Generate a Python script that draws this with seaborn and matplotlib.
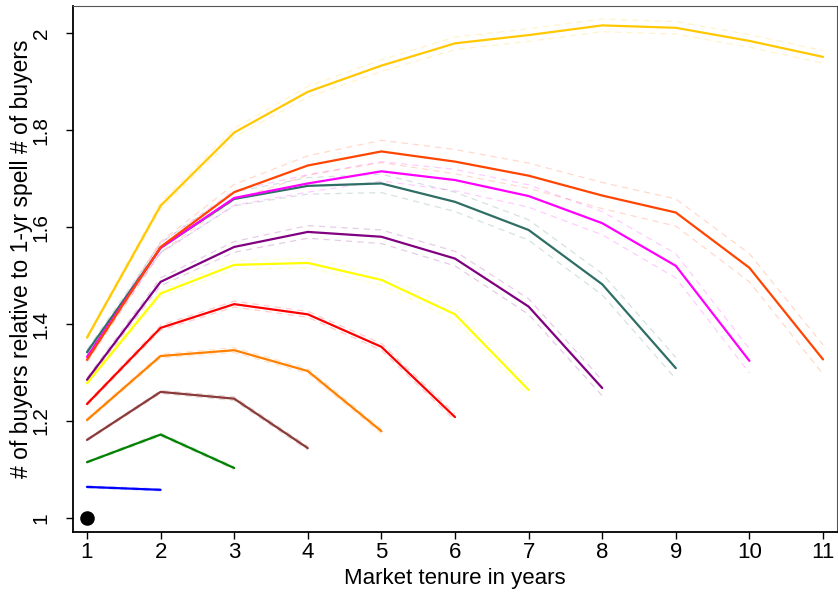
import numpy as np
import pandas as pd
import matplotlib
matplotlib.use("Agg")
import matplotlib.pyplot as plt
import seaborn as sns

# ---- data -----------------------------------------------------------------
series_names = ["s2", "s3", "s4", "s5", "s6", "s7", "s8", "s9", "s10", "s11", "s12"]
series_colors = ["#0000FF", "#008000", "#8B3A3A", "#FF8000", "#FF0000", "#FFFF00",
                 "#800080", "#2E6E65", "#FF00FF", "#FF4500", "#FFC800"]

s2 = [1.064, 1.058]
s3 = [1.115, 1.172, 1.103]
s4 = [1.161, 1.260, 1.246, 1.144]
s5 = [1.202, 1.334, 1.346, 1.303, 1.179]
s6 = [1.235, 1.392, 1.441, 1.420, 1.353, 1.208]
s7 = [1.278, 1.463, 1.522, 1.526, 1.491, 1.420, 1.264]
s8 = [1.285, 1.487, 1.559, 1.590, 1.580, 1.535, 1.436, 1.268]
s9 = [1.342, 1.557, 1.658, 1.685, 1.690, 1.652, 1.594, 1.482, 1.309]
s10 = [1.332, 1.557, 1.660, 1.690, 1.715, 1.697, 1.664, 1.608, 1.520, 1.324]
s11 = [1.326, 1.559, 1.672, 1.727, 1.756, 1.735, 1.706, 1.665, 1.630, 1.516, 1.327]
s12 = [1.372, 1.644, 1.795, 1.879, 1.933, 1.979, 1.996, 2.016, 2.011, 1.984, 1.951]

# half-widths of the dashed confidence bands
h2 = [0.002, 0.002]
h3 = [0.002, 0.003, 0.003]
h4 = [0.002, 0.003, 0.004, 0.004]
h5 = [0.003, 0.004, 0.005, 0.005, 0.005]
h6 = [0.003, 0.005, 0.006, 0.006, 0.007, 0.007]
h7 = [0.004, 0.007, 0.009, 0.010, 0.011, 0.012, 0.012]
h8 = [0.004, 0.008, 0.011, 0.013, 0.014, 0.015, 0.016, 0.016]
h9 = [0.005, 0.010, 0.014, 0.017, 0.019, 0.020, 0.021, 0.022, 0.022]
h10 = [0.005, 0.010, 0.015, 0.018, 0.020, 0.022, 0.023, 0.024, 0.025, 0.025]
h11 = [0.005, 0.011, 0.016, 0.020, 0.023, 0.025, 0.026, 0.027, 0.028, 0.029, 0.030]
h12 = [0.004, 0.007, 0.009, 0.011, 0.012, 0.013, 0.013, 0.013, 0.013, 0.013, 0.013]

dot_x = [1]
dot_y = [1.0]

x_ticks = [1, 2, 3, 4, 5, 6, 7, 8, 9, 10, 11]
y_ticks = [1.0, 1.2, 1.4, 1.6, 1.8, 2.0]
y_tick_labels = ["1", "1.2", "1.4", "1.6", "1.8", "2"]
x_label = "Market tenure in years"
y_label = "# of buyers relative to 1-yr spell # of buyers"

values = [s2, s3, s4, s5, s6, s7, s8, s9, s10, s11, s12]
halfw = [h2, h3, h4, h5, h6, h7, h8, h9, h10, h11, h12]

rows = []
for name, vals, hw in zip(series_names, values, halfw):
    for i, (v, h) in enumerate(zip(vals, hw)):
        rows.append({"series": name, "tenure": i + 1, "value": v,
                     "lo": v - h, "hi": v + h})
df = pd.DataFrame(rows)
palette = dict(zip(series_names, series_colors))

# ---- plot -----------------------------------------------------------------
sns.set_theme(style="ticks")
plt.rcParams["font.family"] = ["Liberation Sans", "DejaVu Sans"]

fig = plt.figure(figsize=(8.38, 5.92), dpi=100)
ax = fig.add_axes([73 / 838, 1 - 532 / 592, 764 / 838, 526 / 592])

for col in ["lo", "hi"]:
    sns.lineplot(data=df, x="tenure", y=col, hue="series", palette=palette,
                 estimator=None, sort=False, legend=False, ax=ax,
                 linewidth=0.9, alpha=0.2, dashes=False, zorder=1)
for ln in ax.get_lines():
    ln.set_linestyle((0, (5, 4)))

sns.lineplot(data=df, x="tenure", y="value", hue="series", palette=palette,
             estimator=None, sort=False, legend=False, ax=ax,
             linewidth=1.6, zorder=3)

sns.scatterplot(x=dot_x, y=dot_y, color="black", s=110, ax=ax, zorder=4,
                edgecolor="black", linewidth=0)

ax.set_xlim(0.81, 11.19)
ax.set_ylim(0.971, 2.056)
ax.set_xticks(x_ticks)
ax.set_xticklabels([str(t) for t in x_ticks])
ax.set_yticks(y_ticks)
ax.set_yticklabels(y_tick_labels, rotation=90, va="center")

ax.tick_params(axis="both", direction="out", length=5, width=1.0,
               color="black", labelcolor="black",
               left=True, bottom=True, top=False, right=False)
ax.tick_params(axis="x", pad=2, labelsize=16)
ax.tick_params(axis="y", pad=11, labelsize=15)
ax.set_xlabel(x_label, fontsize=16, color="black", labelpad=4)
ax.set_ylabel(y_label, fontsize=16.5, color="black")
ax.yaxis.set_label_coords(-0.0525, 0.519)

for side in ["left", "bottom"]:
    ax.spines[side].set_visible(True)
    ax.spines[side].set_color("black")
    ax.spines[side].set_linewidth(1.3)
for side in ["top", "right"]:
    ax.spines[side].set_visible(True)
    ax.spines[side].set_color("#555555")
    ax.spines[side].set_linewidth(0.8)

ax.grid(False)
fig.savefig("out.png", dpi=100)
